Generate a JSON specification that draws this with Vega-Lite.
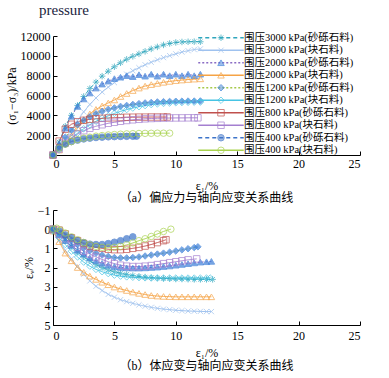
{
"$schema": "https://vega.github.io/schema/vega-lite/v6.json",
"padding": {"left": 5, "top": 3, "right": 0, "bottom": 0},
"title": {"text": "pressure", "anchor": "start", "font": "Liberation Serif", "fontSize": 15, "fontWeight": "normal", "color": "#1b2440", "dx": 34, "offset": 12},
"spacing": 0,
"datasets": {
"top": [
{"s":"A","x":0,"y":0},{"s":"A","x":0.5,"y":1300},{"s":"A","x":1,"y":2900},{"s":"A","x":1.5,"y":4000},{"s":"A","x":2,"y":5000},{"s":"A","x":2.5,"y":5900},{"s":"A","x":3,"y":6700},{"s":"A","x":3.5,"y":7350},{"s":"A","x":4,"y":7950},{"s":"A","x":4.5,"y":8450},{"s":"A","x":5,"y":8900},{"s":"A","x":5.5,"y":9300},{"s":"A","x":6,"y":9650},{"s":"A","x":6.5,"y":9950},{"s":"A","x":7,"y":10200},{"s":"A","x":7.5,"y":10450},{"s":"A","x":8,"y":10700},{"s":"A","x":8.5,"y":10900},{"s":"A","x":9,"y":11100},{"s":"A","x":9.5,"y":11250},{"s":"A","x":10,"y":11350},{"s":"A","x":10.5,"y":11400},{"s":"A","x":11,"y":11420},{"s":"A","x":11.5,"y":11430},{"s":"A","x":12,"y":11420},
{"s":"B","x":0,"y":0},{"s":"B","x":0.5,"y":700},{"s":"B","x":1,"y":1600},{"s":"B","x":1.5,"y":2550},{"s":"B","x":2,"y":3500},{"s":"B","x":2.5,"y":4350},{"s":"B","x":3,"y":5100},{"s":"B","x":3.5,"y":5750},{"s":"B","x":4,"y":6350},{"s":"B","x":4.5,"y":6850},{"s":"B","x":5,"y":7300},{"s":"B","x":5.5,"y":7750},{"s":"B","x":6,"y":8150},{"s":"B","x":6.5,"y":8500},{"s":"B","x":7,"y":8800},{"s":"B","x":7.5,"y":9100},{"s":"B","x":8,"y":9350},{"s":"B","x":8.5,"y":9600},{"s":"B","x":9,"y":9820},{"s":"B","x":9.5,"y":10020},{"s":"B","x":10,"y":10200},{"s":"B","x":10.5,"y":10380},{"s":"B","x":11,"y":10520},{"s":"B","x":11.5,"y":10630},{"s":"B","x":12,"y":10700},
{"s":"C","x":0,"y":0},{"s":"C","x":0.5,"y":1100},{"s":"C","x":1,"y":2700},{"s":"C","x":1.5,"y":3900},{"s":"C","x":2,"y":4900},{"s":"C","x":2.5,"y":5650},{"s":"C","x":3,"y":6250},{"s":"C","x":3.5,"y":6750},{"s":"C","x":4,"y":7150},{"s":"C","x":4.5,"y":7450},{"s":"C","x":5,"y":7700},{"s":"C","x":5.5,"y":7850},{"s":"C","x":6,"y":8000},{"s":"C","x":6.5,"y":7900},{"s":"C","x":7,"y":8100},{"s":"C","x":7.5,"y":7950},{"s":"C","x":8,"y":8150},{"s":"C","x":8.5,"y":7950},{"s":"C","x":9,"y":8150},{"s":"C","x":9.5,"y":8000},{"s":"C","x":10,"y":8150},{"s":"C","x":10.5,"y":8000},{"s":"C","x":11,"y":8150},{"s":"C","x":11.5,"y":8000},{"s":"C","x":12,"y":8150},
{"s":"D","x":0,"y":0},{"s":"D","x":0.5,"y":500},{"s":"D","x":1,"y":1200},{"s":"D","x":1.5,"y":1950},{"s":"D","x":2,"y":2750},{"s":"D","x":2.5,"y":3500},{"s":"D","x":3,"y":4150},{"s":"D","x":3.5,"y":4600},{"s":"D","x":4,"y":4950},{"s":"D","x":4.5,"y":5250},{"s":"D","x":5,"y":5550},{"s":"D","x":5.5,"y":5900},{"s":"D","x":6,"y":6200},{"s":"D","x":6.5,"y":6500},{"s":"D","x":7,"y":6750},{"s":"D","x":7.5,"y":6950},{"s":"D","x":8,"y":7100},{"s":"D","x":8.5,"y":7220},{"s":"D","x":9,"y":7330},{"s":"D","x":9.5,"y":7420},{"s":"D","x":10,"y":7500},{"s":"D","x":10.5,"y":7560},{"s":"D","x":11,"y":7610},{"s":"D","x":11.5,"y":7650},{"s":"D","x":12,"y":7680},
{"s":"E","x":0,"y":0},{"s":"E","x":0.5,"y":900},{"s":"E","x":1,"y":1800},{"s":"E","x":1.5,"y":2500},{"s":"E","x":2,"y":3050},{"s":"E","x":2.5,"y":3500},{"s":"E","x":3,"y":3850},{"s":"E","x":3.5,"y":4150},{"s":"E","x":4,"y":4400},{"s":"E","x":4.5,"y":4600},{"s":"E","x":5,"y":4750},{"s":"E","x":5.5,"y":4900},{"s":"E","x":6,"y":5000},{"s":"E","x":6.5,"y":5100},{"s":"E","x":7,"y":5180},{"s":"E","x":7.5,"y":5250},{"s":"E","x":8,"y":5300},{"s":"E","x":8.5,"y":5350},{"s":"E","x":9,"y":5380},{"s":"E","x":9.5,"y":5400},{"s":"E","x":10,"y":5420},{"s":"E","x":10.5,"y":5430},{"s":"E","x":11,"y":5440},{"s":"E","x":11.5,"y":5440},{"s":"E","x":12,"y":5450},
{"s":"F","x":0,"y":0},{"s":"F","x":0.5,"y":500},{"s":"F","x":1,"y":1100},{"s":"F","x":1.5,"y":1700},{"s":"F","x":2,"y":2200},{"s":"F","x":2.5,"y":2650},{"s":"F","x":3,"y":3050},{"s":"F","x":3.5,"y":3400},{"s":"F","x":4,"y":3700},{"s":"F","x":4.5,"y":3950},{"s":"F","x":5,"y":4200},{"s":"F","x":5.5,"y":4400},{"s":"F","x":6,"y":4580},{"s":"F","x":6.5,"y":4730},{"s":"F","x":7,"y":4870},{"s":"F","x":7.5,"y":4980},{"s":"F","x":8,"y":5080},{"s":"F","x":8.5,"y":5150},{"s":"F","x":9,"y":5200},{"s":"F","x":9.5,"y":5240},{"s":"F","x":10,"y":5270},{"s":"F","x":10.5,"y":5290},{"s":"F","x":11,"y":5310},{"s":"F","x":11.5,"y":5320},{"s":"F","x":12,"y":5330},
{"s":"G","x":0,"y":0},{"s":"G","x":0.5,"y":1400},{"s":"G","x":1,"y":2600},{"s":"G","x":1.5,"y":3100},{"s":"G","x":2,"y":3350},{"s":"G","x":2.5,"y":3500},{"s":"G","x":3,"y":3600},{"s":"G","x":3.5,"y":3650},{"s":"G","x":4,"y":3700},{"s":"G","x":4.5,"y":3730},{"s":"G","x":5,"y":3760},{"s":"G","x":5.5,"y":3780},{"s":"G","x":6,"y":3800},{"s":"G","x":6.5,"y":3810},{"s":"G","x":7,"y":3820},{"s":"G","x":7.5,"y":3820},{"s":"G","x":8,"y":3830},{"s":"G","x":8.5,"y":3830},{"s":"G","x":9,"y":3830},{"s":"G","x":9.3,"y":3830},
{"s":"H","x":0,"y":0},{"s":"H","x":0.5,"y":600},{"s":"H","x":1,"y":1200},{"s":"H","x":1.5,"y":1700},{"s":"H","x":2,"y":2100},{"s":"H","x":2.5,"y":2450},{"s":"H","x":3,"y":2700},{"s":"H","x":3.5,"y":2900},{"s":"H","x":4,"y":3050},{"s":"H","x":4.5,"y":3200},{"s":"H","x":5,"y":3300},{"s":"H","x":5.5,"y":3400},{"s":"H","x":6,"y":3480},{"s":"H","x":6.5,"y":3550},{"s":"H","x":7,"y":3600},{"s":"H","x":7.5,"y":3650},{"s":"H","x":8,"y":3680},{"s":"H","x":8.5,"y":3700},{"s":"H","x":9,"y":3720},{"s":"H","x":9.5,"y":3730},{"s":"H","x":10,"y":3740},{"s":"H","x":10.5,"y":3740},{"s":"H","x":11,"y":3750},{"s":"H","x":11.5,"y":3750},{"s":"H","x":11.8,"y":3750},
{"s":"I","x":0,"y":0},{"s":"I","x":0.5,"y":700},{"s":"I","x":1,"y":1100},{"s":"I","x":1.5,"y":1350},{"s":"I","x":2,"y":1500},{"s":"I","x":2.5,"y":1620},{"s":"I","x":3,"y":1700},{"s":"I","x":3.5,"y":1760},{"s":"I","x":4,"y":1800},{"s":"I","x":4.5,"y":1830},{"s":"I","x":5,"y":1850},{"s":"I","x":5.5,"y":1870},{"s":"I","x":6,"y":1880},{"s":"I","x":6.5,"y":1890},{"s":"I","x":6.8,"y":1900},
{"s":"J","x":0,"y":0},{"s":"J","x":0.5,"y":700},{"s":"J","x":1,"y":1100},{"s":"J","x":1.5,"y":1350},{"s":"J","x":2,"y":1550},{"s":"J","x":2.5,"y":1700},{"s":"J","x":3,"y":1800},{"s":"J","x":3.5,"y":1900},{"s":"J","x":4,"y":1960},{"s":"J","x":4.5,"y":2020},{"s":"J","x":5,"y":2060},{"s":"J","x":5.5,"y":2100},{"s":"J","x":6,"y":2130},{"s":"J","x":6.5,"y":2150},{"s":"J","x":7,"y":2170},{"s":"J","x":7.5,"y":2180},{"s":"J","x":8,"y":2190},{"s":"J","x":8.5,"y":2200},{"s":"J","x":9,"y":2200},{"s":"J","x":9.5,"y":2200}
],
"bottom": [
{"s":"A","x":0,"y":0.05},{"s":"A","x":0.5,"y":0.3},{"s":"A","x":1,"y":0.6},{"s":"A","x":1.5,"y":0.9},{"s":"A","x":2,"y":1.2},{"s":"A","x":2.5,"y":1.45},{"s":"A","x":3,"y":1.65},{"s":"A","x":3.5,"y":1.85},{"s":"A","x":4,"y":2.0},{"s":"A","x":4.5,"y":2.12},{"s":"A","x":5,"y":2.22},{"s":"A","x":5.5,"y":2.3},{"s":"A","x":6,"y":2.36},{"s":"A","x":6.5,"y":2.42},{"s":"A","x":7,"y":2.46},{"s":"A","x":7.5,"y":2.5},{"s":"A","x":8,"y":2.53},{"s":"A","x":8.5,"y":2.55},{"s":"A","x":9,"y":2.57},{"s":"A","x":9.5,"y":2.58},{"s":"A","x":10,"y":2.6},{"s":"A","x":10.5,"y":2.6},{"s":"A","x":11,"y":2.61},{"s":"A","x":11.5,"y":2.62},{"s":"A","x":12,"y":2.62},{"s":"A","x":12.5,"y":2.62},{"s":"A","x":13,"y":2.62},
{"s":"B","x":0,"y":0.1},{"s":"B","x":0.5,"y":0.6},{"s":"B","x":1,"y":1.1},{"s":"B","x":1.5,"y":1.55},{"s":"B","x":2,"y":1.95},{"s":"B","x":2.5,"y":2.35},{"s":"B","x":3,"y":2.7},{"s":"B","x":3.5,"y":2.98},{"s":"B","x":4,"y":3.2},{"s":"B","x":4.5,"y":3.4},{"s":"B","x":5,"y":3.55},{"s":"B","x":5.5,"y":3.68},{"s":"B","x":6,"y":3.78},{"s":"B","x":6.5,"y":3.87},{"s":"B","x":7,"y":3.95},{"s":"B","x":7.5,"y":4.02},{"s":"B","x":8,"y":4.08},{"s":"B","x":8.5,"y":4.13},{"s":"B","x":9,"y":4.17},{"s":"B","x":9.5,"y":4.2},{"s":"B","x":10,"y":4.23},{"s":"B","x":10.5,"y":4.25},{"s":"B","x":11,"y":4.27},{"s":"B","x":11.5,"y":4.28},{"s":"B","x":12,"y":4.29},{"s":"B","x":12.5,"y":4.3},{"s":"B","x":12.9,"y":4.3},
{"s":"C","x":0,"y":0.05},{"s":"C","x":0.5,"y":0.3},{"s":"C","x":1,"y":0.6},{"s":"C","x":1.5,"y":0.85},{"s":"C","x":2,"y":1.1},{"s":"C","x":2.5,"y":1.3},{"s":"C","x":3,"y":1.5},{"s":"C","x":3.5,"y":1.65},{"s":"C","x":4,"y":1.78},{"s":"C","x":4.5,"y":1.88},{"s":"C","x":5,"y":1.95},{"s":"C","x":5.5,"y":2.0},{"s":"C","x":6,"y":2.02},{"s":"C","x":6.5,"y":2.03},{"s":"C","x":7,"y":2.03},{"s":"C","x":7.5,"y":2.02},{"s":"C","x":8,"y":2.0},{"s":"C","x":8.5,"y":1.98},{"s":"C","x":9,"y":1.95},{"s":"C","x":9.5,"y":1.92},{"s":"C","x":10,"y":1.88},{"s":"C","x":10.5,"y":1.84},{"s":"C","x":11,"y":1.8},{"s":"C","x":11.5,"y":1.76},{"s":"C","x":12,"y":1.72},{"s":"C","x":12.5,"y":1.7},{"s":"C","x":12.9,"y":1.68},
{"s":"D","x":0,"y":0.1},{"s":"D","x":0.5,"y":0.65},{"s":"D","x":1,"y":1.25},{"s":"D","x":1.5,"y":1.65},{"s":"D","x":2,"y":2.0},{"s":"D","x":2.5,"y":2.25},{"s":"D","x":3,"y":2.45},{"s":"D","x":3.5,"y":2.62},{"s":"D","x":4,"y":2.77},{"s":"D","x":4.5,"y":2.9},{"s":"D","x":5,"y":3.02},{"s":"D","x":5.5,"y":3.12},{"s":"D","x":6,"y":3.2},{"s":"D","x":6.5,"y":3.28},{"s":"D","x":7,"y":3.35},{"s":"D","x":7.5,"y":3.41},{"s":"D","x":8,"y":3.46},{"s":"D","x":8.5,"y":3.49},{"s":"D","x":9,"y":3.51},{"s":"D","x":9.5,"y":3.52},{"s":"D","x":10,"y":3.53},{"s":"D","x":10.5,"y":3.53},{"s":"D","x":11,"y":3.53},{"s":"D","x":11.5,"y":3.53},{"s":"D","x":12,"y":3.53},{"s":"D","x":12.5,"y":3.53},{"s":"D","x":12.9,"y":3.53},
{"s":"E","x":0,"y":0},{"s":"E","x":0.5,"y":0.2},{"s":"E","x":1,"y":0.4},{"s":"E","x":1.5,"y":0.6},{"s":"E","x":2,"y":0.8},{"s":"E","x":2.5,"y":0.98},{"s":"E","x":3,"y":1.12},{"s":"E","x":3.5,"y":1.25},{"s":"E","x":4,"y":1.35},{"s":"E","x":4.5,"y":1.42},{"s":"E","x":5,"y":1.48},{"s":"E","x":5.5,"y":1.5},{"s":"E","x":6,"y":1.5},{"s":"E","x":6.5,"y":1.48},{"s":"E","x":7,"y":1.45},{"s":"E","x":7.5,"y":1.4},{"s":"E","x":8,"y":1.35},{"s":"E","x":8.5,"y":1.3},{"s":"E","x":9,"y":1.25},{"s":"E","x":9.5,"y":1.2},{"s":"E","x":10,"y":1.14},{"s":"E","x":10.5,"y":1.08},{"s":"E","x":11,"y":1.02},{"s":"E","x":11.5,"y":0.96},{"s":"E","x":11.8,"y":0.92},
{"s":"F","x":0,"y":0.1},{"s":"F","x":0.5,"y":0.45},{"s":"F","x":1,"y":0.8},{"s":"F","x":1.5,"y":1.15},{"s":"F","x":2,"y":1.45},{"s":"F","x":2.5,"y":1.72},{"s":"F","x":3,"y":1.93},{"s":"F","x":3.5,"y":2.1},{"s":"F","x":4,"y":2.22},{"s":"F","x":4.5,"y":2.32},{"s":"F","x":5,"y":2.4},{"s":"F","x":5.5,"y":2.45},{"s":"F","x":6,"y":2.49},{"s":"F","x":6.5,"y":2.51},{"s":"F","x":7,"y":2.53},{"s":"F","x":7.5,"y":2.54},{"s":"F","x":8,"y":2.55},{"s":"F","x":8.5,"y":2.55},{"s":"F","x":9,"y":2.55},{"s":"F","x":9.5,"y":2.55},{"s":"F","x":10,"y":2.55},{"s":"F","x":10.5,"y":2.55},{"s":"F","x":11,"y":2.55},{"s":"F","x":11.5,"y":2.55},{"s":"F","x":12,"y":2.55},{"s":"F","x":12.5,"y":2.55},{"s":"F","x":12.8,"y":2.55},
{"s":"G","x":0,"y":0},{"s":"G","x":0.5,"y":0.05},{"s":"G","x":1,"y":0.25},{"s":"G","x":1.5,"y":0.45},{"s":"G","x":2,"y":0.6},{"s":"G","x":2.5,"y":0.75},{"s":"G","x":3,"y":0.88},{"s":"G","x":3.5,"y":0.95},{"s":"G","x":4,"y":1.0},{"s":"G","x":4.5,"y":1.05},{"s":"G","x":5,"y":1.07},{"s":"G","x":5.5,"y":1.07},{"s":"G","x":6,"y":1.05},{"s":"G","x":6.5,"y":1.0},{"s":"G","x":7,"y":0.95},{"s":"G","x":7.5,"y":0.88},{"s":"G","x":8,"y":0.8},{"s":"G","x":8.5,"y":0.7},{"s":"G","x":9,"y":0.6},{"s":"G","x":9.2,"y":0.55},
{"s":"H","x":0,"y":0},{"s":"H","x":0.5,"y":0.25},{"s":"H","x":1,"y":0.5},{"s":"H","x":1.5,"y":0.75},{"s":"H","x":2,"y":0.95},{"s":"H","x":2.5,"y":1.15},{"s":"H","x":3,"y":1.3},{"s":"H","x":3.5,"y":1.45},{"s":"H","x":4,"y":1.58},{"s":"H","x":4.5,"y":1.7},{"s":"H","x":5,"y":1.8},{"s":"H","x":5.5,"y":1.88},{"s":"H","x":6,"y":1.93},{"s":"H","x":6.5,"y":1.95},{"s":"H","x":7,"y":1.95},{"s":"H","x":7.5,"y":1.93},{"s":"H","x":8,"y":1.9},{"s":"H","x":8.5,"y":1.85},{"s":"H","x":9,"y":1.8},{"s":"H","x":9.5,"y":1.75},{"s":"H","x":10,"y":1.7},{"s":"H","x":10.5,"y":1.65},{"s":"H","x":11,"y":1.6},{"s":"H","x":11.7,"y":1.55},
{"s":"I","x":0,"y":0},{"s":"I","x":0.5,"y":0.1},{"s":"I","x":1,"y":0.3},{"s":"I","x":1.5,"y":0.45},{"s":"I","x":2,"y":0.6},{"s":"I","x":2.5,"y":0.7},{"s":"I","x":3,"y":0.78},{"s":"I","x":3.5,"y":0.8},{"s":"I","x":4,"y":0.8},{"s":"I","x":4.5,"y":0.75},{"s":"I","x":5,"y":0.68},{"s":"I","x":5.5,"y":0.6},{"s":"I","x":6,"y":0.5},{"s":"I","x":6.5,"y":0.4},
{"s":"J","x":0,"y":0},{"s":"J","x":0.3,"y":-0.05},{"s":"J","x":0.6,"y":0.05},{"s":"J","x":1,"y":0.2},{"s":"J","x":1.5,"y":0.4},{"s":"J","x":2,"y":0.55},{"s":"J","x":2.5,"y":0.7},{"s":"J","x":3,"y":0.82},{"s":"J","x":3.5,"y":0.9},{"s":"J","x":4,"y":0.95},{"s":"J","x":4.5,"y":0.97},{"s":"J","x":5,"y":0.95},{"s":"J","x":5.5,"y":0.9},{"s":"J","x":6,"y":0.82},{"s":"J","x":6.5,"y":0.72},{"s":"J","x":7,"y":0.6},{"s":"J","x":7.5,"y":0.5},{"s":"J","x":8,"y":0.38},{"s":"J","x":8.5,"y":0.25},{"s":"J","x":9,"y":0.12},{"s":"J","x":9.6,"y":0.0}
]
},
"vconcat": [
{
"width": 307, "height": 119,
"title": {"text": "（a）偏应力与轴向应变关系曲线", "orient": "bottom", "frame": "group", "anchor": "middle", "offset": 2, "font": "Liberation Serif, Noto Sans CJK SC", "fontSize": 12, "fontWeight": "normal", "color": "#000"},
"data": {"name": "top"},
"encoding": {
"x": {"field": "x", "type": "quantitative", "scale": {"domain": [0, 25], "nice": false}, "axis": {"values": [0,5,10,15,20,25], "title": "ε₁/%", "titlePadding": 11}},
"y": {"field": "y", "type": "quantitative", "scale": {"domain": [0, 12000], "nice": false}, "axis": {"values": [2000,4000,6000,8000,10000,12000], "format": "d", "title": "(σ₁−σ₃)/kPa"}}
},
"layer": [
{"mark": {"type": "line", "strokeWidth": 1},
"encoding": {
"color": {"field": "s", "type": "nominal", "scale": {"domain": ["A","B","C","D","E","F","G","H","I","J"], "range": ["#2fa6bd","#9fc2ef","#8a6cc4","#f6a345","#a6c94a","#46c4e4","#c0504d","#a47fd0","#3d74c9","#a9d34f"]},
"legend": {"orient": "none", "legendX": 170.75, "legendY": -3.5, "title": null, "symbolType": "M-6.5,0H6.5", "symbolSize": 49, "symbolOffset": -8, "symbolStrokeWidth": 1.3, "labelOffset": 17.75, "rowPadding": 1.5, "padding": 0, "labelFontSize": 10.5, "labelFont": "Liberation Serif, Noto Sans CJK SC", "labelColor": "#000", "labelExpr": "{'A':'围压3000 kPa(砂砾石料)','B':'围压3000 kPa(块石料)','C':'围压2000 kPa(砂砾石料)','D':'围压2000 kPa(块石料)','E':'围压1200 kPa(砂砾石料)','F':'围压1200 kPa(块石料)','G':'围压800 kPa(砂砾石料)','H':'围压800 kPa(块石料)','I':'围压400 kPa(砂砾石料)','J':'围压400 kPa(块石料)'}[datum.label]"}},
"strokeDash": {"field": "s", "type": "nominal", "scale": {"domain": ["A","B","C","D","E","F","G","H","I","J"], "range": [[4,3],[1,0],[2,2],[1,0],[2,2],[1,0],[1,0],[1,0],[4,3],[1,0]]},
"legend": {"orient": "none", "legendX": 170.75, "legendY": -3.5, "title": null, "symbolType": "M-6.5,0H6.5", "symbolSize": 49, "symbolOffset": -8, "symbolStrokeWidth": 1.3, "labelOffset": 17.75, "rowPadding": 1.5, "padding": 0, "labelFontSize": 10.5, "labelFont": "Liberation Serif, Noto Sans CJK SC", "labelColor": "#000", "labelExpr": "{'A':'围压3000 kPa(砂砾石料)','B':'围压3000 kPa(块石料)','C':'围压2000 kPa(砂砾石料)','D':'围压2000 kPa(块石料)','E':'围压1200 kPa(砂砾石料)','F':'围压1200 kPa(块石料)','G':'围压800 kPa(砂砾石料)','H':'围压800 kPa(块石料)','I':'围压400 kPa(砂砾石料)','J':'围压400 kPa(块石料)'}[datum.label]"}}
}},
{"mark": {"type": "point", "filled": true, "size": 42, "strokeWidth": 1},
"encoding": {
"shape": {"field": "s", "type": "nominal", "sort": null, "scale": {"range": ["M-1,0H1M0,-1V1M-0.7,-0.7L0.7,0.7M-0.7,0.7L0.7,-0.7","M-0.8,-0.8L0.8,0.8M-0.8,0.8L0.8,-0.8","triangle-up","triangle-up","diamond","diamond","square","square","circle","circle"]},
"legend": {"orient": "none", "legendX": 170.75, "legendY": -3.5, "title": null, "symbolSize": 42, "symbolOffset": -8, "symbolStrokeWidth": 1, "labelOffset": 17.75, "rowPadding": 1.5, "padding": 0, "labelFontSize": 10.5, "labelExpr": "''"}},
"stroke": {"field": "s", "type": "nominal", "sort": null, "scale": {"range": ["#2fa6bd","#9fc2ef","#3b7dd8","#f6a345","#3b7fd9","#46c4e4","#c0504d","#a47fd0","#3d74c9","#a9d34f"]},
"legend": {"orient": "none", "legendX": 170.75, "legendY": -3.5, "title": null, "symbolSize": 42, "symbolOffset": -8, "symbolStrokeWidth": 1, "labelOffset": 17.75, "rowPadding": 1.5, "padding": 0, "labelFontSize": 10.5, "labelExpr": "''"}},
"fill": {"field": "s", "type": "nominal", "sort": null, "scale": {"range": ["transparent","transparent","#3b7dd8","transparent","#3b7fd9","transparent","transparent","transparent","#3d74c9","transparent"]},
"legend": {"orient": "none", "legendX": 170.75, "legendY": -3.5, "title": null, "symbolSize": 42, "symbolOffset": -8, "symbolStrokeWidth": 1, "labelOffset": 17.75, "rowPadding": 1.5, "padding": 0, "labelFontSize": 10.5, "labelExpr": "''"}}
}}
]
},
{
"width": 307, "height": 115,
"title": {"text": "（b）体应变与轴向应变关系曲线", "orient": "bottom", "frame": "group", "anchor": "middle", "offset": 3, "font": "Liberation Serif, Noto Sans CJK SC", "fontSize": 12, "fontWeight": "normal", "color": "#000"},
"data": {"name": "bottom"},
"encoding": {
"x": {"field": "x", "type": "quantitative", "scale": {"domain": [0, 25], "nice": false}, "axis": {"values": [0,5,10,15,20,25], "title": "ε₁/%", "titlePadding": 6, "labelPadding": 9}},
"y": {"field": "y", "type": "quantitative", "scale": {"domain": [-1, 5], "nice": false, "reverse": true}, "axis": {"values": [-1,0,1,2,3,4,5], "title": "εᵥ/%"}}
},
"layer": [
{"transform": [{"filter": "datum.s !== 'I'"}],
"mark": {"type": "line", "strokeWidth": 1},
"encoding": {
"color": {"field": "s", "type": "nominal", "scale": {"domain": ["A","B","C","D","E","F","G","H","I","J"], "range": ["#f5a55a","#9fc2ef","#2fa6bd","#f6a33c","#6a4c9c","#46c4e4","#c0504d","#a47fd0","#b83a32","#a6d04a"]},
"legend": {"orient": "none", "legendX": 179.25, "legendY": -1.25, "title": null, "symbolType": "M-6.5,0H6.5", "symbolSize": 49, "symbolOffset": -8, "symbolStrokeWidth": 1.3, "labelOffset": 16.45, "rowPadding": 0.9, "padding": 0, "labelFontSize": 10.5, "labelFont": "Liberation Serif, Noto Sans CJK SC", "labelColor": "#000", "labelExpr": "{'A':'围压3000 kPa(砂砾石料)','B':'围压3000 kPa(块石料)','C':'围压2000 kPa(砂砾石料)','D':'围压2000 kPa(块石料)','E':'围压1200 kPa(砂砾石料)','F':'围压1200 kPa(块石料)','G':'围压800 kPa(砂砾石料)','H':'围压800 kPa(块石料)','I':'围压400 kPa(砂砾石料)','J':'围压400 kPa(块石料)'}[datum.label]"}},
"strokeDash": {"field": "s", "type": "nominal", "scale": {"domain": ["A","B","C","D","E","F","G","H","I","J"], "range": [[3,2],[1,0],[3,2],[1,0],[1,0],[1,0],[3,2],[1,0],[2,4],[1,0]]},
"legend": {"orient": "none", "legendX": 179.25, "legendY": -1.25, "title": null, "symbolType": "M-6.5,0H6.5", "symbolSize": 49, "symbolOffset": -8, "symbolStrokeWidth": 1.3, "labelOffset": 16.45, "rowPadding": 0.9, "padding": 0, "labelFontSize": 10.5, "labelFont": "Liberation Serif, Noto Sans CJK SC", "labelColor": "#000", "labelExpr": "{'A':'围压3000 kPa(砂砾石料)','B':'围压3000 kPa(块石料)','C':'围压2000 kPa(砂砾石料)','D':'围压2000 kPa(块石料)','E':'围压1200 kPa(砂砾石料)','F':'围压1200 kPa(块石料)','G':'围压800 kPa(砂砾石料)','H':'围压800 kPa(块石料)','I':'围压400 kPa(砂砾石料)','J':'围压400 kPa(块石料)'}[datum.label]"}}
}},
{"mark": {"type": "point", "filled": true, "size": 42, "strokeWidth": 1},
"encoding": {
"shape": {"field": "s", "type": "nominal", "sort": null, "scale": {"range": ["circle","M-0.8,-0.8L0.8,0.8M-0.8,0.8L0.8,-0.8","M-1,0H1M0,-1V1M-0.7,-0.7L0.7,0.7M-0.7,0.7L0.7,-0.7","triangle-up","M-0.8,-0.8L0.8,0.8M-0.8,0.8L0.8,-0.8","square","square","diamond","M-0.45,0A0.45,0.45,0,1,1,0.45,0A0.45,0.45,0,1,1,-0.45,0Z","M-1,0H1"]},
"legend": {"orient": "none", "legendX": 179.25, "legendY": -1.25, "title": null, "symbolSize": 42, "symbolOffset": -8, "symbolStrokeWidth": 1, "labelOffset": 16.45, "rowPadding": 0.9, "padding": 0, "labelFontSize": 10.5, "labelExpr": "''"}},
"stroke": {"field": "s", "type": "nominal", "sort": null, "scale": {"range": ["#f5a55a","#9fc2ef","#2fa6bd","#f6a33c","#6a4c9c","#46c4e4","#c0504d","#a47fd0","#b83a32","#a6d04a"]},
"legend": {"orient": "none", "legendX": 179.25, "legendY": -1.25, "title": null, "symbolSize": 42, "symbolOffset": -8, "symbolStrokeWidth": 1, "labelOffset": 16.45, "rowPadding": 0.9, "padding": 0, "labelFontSize": 10.5, "labelExpr": "''"}},
"fill": {"field": "s", "type": "nominal", "sort": null, "scale": {"range": ["transparent","transparent","transparent","#f6a33c","transparent","transparent","transparent","transparent","#b83a32","transparent"]},
"legend": {"orient": "none", "legendX": 179.25, "legendY": -1.25, "title": null, "symbolSize": 42, "symbolOffset": -8, "symbolStrokeWidth": 1, "labelOffset": 16.45, "rowPadding": 0.9, "padding": 0, "labelFontSize": 10.5, "labelExpr": "''"}}
}}
]
}
],
"config": {
"view": {"stroke": null},
"axis": {"grid": false, "domainColor": "#000", "domainWidth": 1, "tickColor": "#000", "tickSize": -4, "labelColor": "#000", "labelFont": "Liberation Serif", "labelFontSize": 12, "labelPadding": 7, "titleFont": "Liberation Serif, Noto Sans CJK SC", "titleFontSize": 12, "titleFontWeight": "normal", "titleColor": "#000"},
"axisY": {"titlePadding": 2}
}
}
